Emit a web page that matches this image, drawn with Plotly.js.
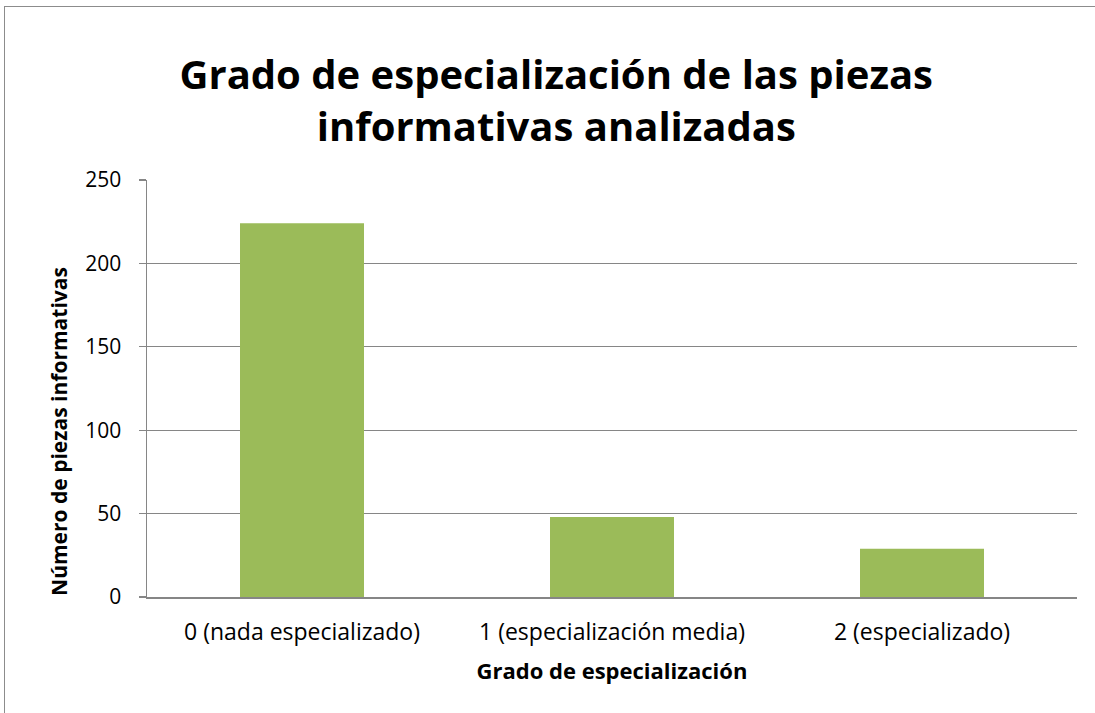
<!DOCTYPE html>
<html>
<head>
<meta charset="utf-8">
<script src="https://cdn.plot.ly/plotly-3.0.1.min.js"></script>
<style>
body { margin: 0; background: #fff; }
#wrap { position: relative; width: 1095px; height: 713px; overflow: hidden; }
#chart { position: absolute; left: 0; top: 0; width: 1095px; height: 713px; }
#frame { position: absolute; left: 4px; top: 6px; width: 1200px; height: 800px; border-left: 1.5px solid #8c8c8c; border-top: 1.5px solid #8c8c8c; pointer-events: none; }
</style>
</head>
<body>
<div id="wrap">
<div id="chart"></div>
<div id="frame"></div>
</div>
<script>
const categories = ["0 (nada especializado)", "1 (especialización media)", "2 (especializado)"];
const values = [224, 48, 29];
const yTicks = [0, 50, 100, 150, 200, 250];
const chartTitle = 'Grado de especialización de las piezas<br>informativas analizadas';
const xTitle = 'Grado de especialización';
const yTitle = 'Número de piezas informativas';

const trace = {
  type: 'bar',
  x: categories,
  y: values,
  marker: { color: '#9BBB59', line: { width: 0 } },
  hoverinfo: 'x+y'
};

const layout = {
  width: 1095,
  height: 713,
  margin: { l: 147, r: 18, t: 180, b: 116 },
  paper_bgcolor: '#ffffff',
  plot_bgcolor: '#ffffff',
  showlegend: false,
  bargap: 0.6,
  font: { family: 'Open Sans, sans-serif', color: '#000000' },
  title: {
    text: chartTitle,
    font: { family: 'Open Sans, sans-serif', size: 40, color: '#000000', weight: 'bold' },
    x: 0.508,
    xanchor: 'center',
    yref: 'container',
    y: 0.875,
    yanchor: 'middle'
  },
  xaxis: {
    type: 'category',
    showgrid: false,
    showline: true,
    linecolor: '#868686',
    linewidth: 1.5,
    ticks: '',
    ticklabelstandoff: 14,
    tickfont: { family: 'Open Sans, sans-serif', size: 23, color: '#000' },
    title: {
      text: xTitle,
      font: { family: 'Open Sans, sans-serif', size: 22, color: '#000', weight: 'bold' },
      standoff: 17
    }
  },
  yaxis: {
    range: [0, 250],
    tickvals: yTicks,
    ticktext: yTicks.map(String),
    showgrid: true,
    gridcolor: '#868686',
    gridwidth: 1.3,
    showline: true,
    linecolor: '#868686',
    linewidth: 1.5,
    ticks: 'outside',
    ticklen: 7,
    tickcolor: '#868686',
    tickwidth: 1.3,
    zeroline: false,
    ticklabelstandoff: 13,
    tickfont: { family: 'Open Sans, sans-serif', size: 21, color: '#000' }
  },
  annotations: [{
    text: yTitle,
    xref: 'paper',
    yref: 'paper',
    x: -0.0946,
    y: 0.396,
    xanchor: 'center',
    yanchor: 'middle',
    textangle: -90,
    showarrow: false,
    font: { family: 'Open Sans, sans-serif', size: 21, color: '#000', weight: 'bold' }
  }]
};

Plotly.newPlot('chart', [trace], layout, { displayModeBar: false, staticPlot: true });
</script>
</body>
</html>
